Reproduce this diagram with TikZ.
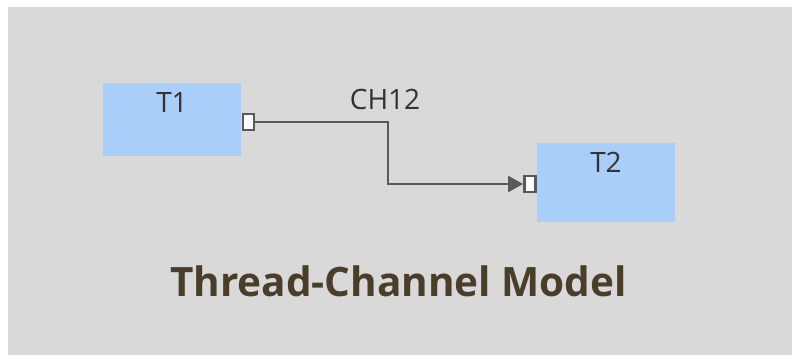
\documentclass[tikz,border=0pt]{standalone}
\usepackage{fontspec}
\setmainfont{Open Sans}
\usetikzlibrary{
    arrows.meta,
    positioning
}
\definecolor{panelgray}{HTML}{D9D9D9}
\definecolor{threadblue}{HTML}{A9CEFA}
\definecolor{wiregray}{HTML}{595959}
\definecolor{titlebrown}{HTML}{4A3E2A}

\begin{document}
\begin{tikzpicture}[
        x=1pt, y=-1pt,
        every node/.style={
            font=\fontsize{28pt}{32pt}\selectfont,
            text=black!80
        },
        thread/.style={
            rectangle,
            fill=threadblue,
            minimum width=138pt,
            inner sep=0pt
        },
        port/.style={
            rectangle,
            draw=wiregray,
            fill=white,
            line width=2.8pt,
            minimum width=11pt,
            minimum height=16pt,
            inner sep=0pt
        },
        wire/.style={
            -{Triangle[length=15pt,width=16pt]},
            line width=2.6pt,
            draw=wiregray
        }
    ]

    \useasboundingbox (0,0) rectangle (792,355);
    \fill[panelgray] (8,7) rectangle (792,355);

    \node[thread, minimum height=73pt] (t1) at (172,119.5) {};
    \node[anchor=base] (t1text) at (172,113) {T1};

    \node[thread, minimum height=79pt] (t2) at (606,182.5) {};
    \node[anchor=base] (t2text) at (606,173) {T2};

    \node[port] (out1) at (248.5,122) {};
    \node[port] (in2) at (530,184) {};

    \coordinate (bend) at (388,122);
    \draw[wire] (out1.east) -- (bend) |- (in2.west);

    \node[anchor=base] (ch) at (385,110) {CH12};

    \node[anchor=base, text=titlebrown,
        font=\fontsize{40.5pt}{44pt}\selectfont\bfseries]
        (title) at (398.5,297) {Thread-Channel Model};

\end{tikzpicture}
\end{document}
